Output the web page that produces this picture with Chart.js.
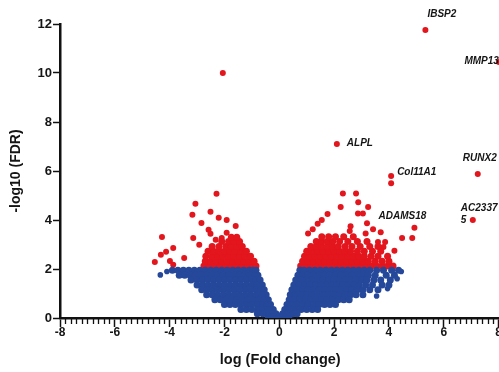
<!DOCTYPE html>
<html>
<head>
<meta charset="utf-8">
<script src="https://cdn.jsdelivr.net/npm/chart.js@4.4.1/dist/chart.umd.min.js"></script>
<style>
  html, body { margin: 0; padding: 0; background: #ffffff; overflow: hidden; }
  #wrap { width: 499px; height: 372px; overflow: hidden; position: relative; }
  #c { position: absolute; left: 0; top: 0; }
</style>
</head>
<body>
<div id="wrap"><canvas id="c" width="504" height="372"></canvas></div>
<script>
// ---- data (log fold change, -log10 FDR) ----
const xTickValues = [-8, -6, -4, -2, 0, 2, 4, 6, 8];
const yTickValues = [0, 2, 4, 6, 8, 10, 12];

// dense non-significant cloud, rows of [y, [x...]]
const blueCloudLeft = [
  [1.95, [-3.9,-3.7,-3.5,-3.3,-3.1,-2.9,-2.7,-2.5,-2.3,-2.1,-1.9,-1.7,-1.5,-1.3,-1.1,-0.95,-0.85]],
  [1.75, [-3.65,-3.45,-3.25,-3.05,-2.85,-2.65,-2.45,-2.25,-2.05,-1.85,-1.65,-1.45,-1.25,-1.05,-0.9,-0.78]],
  [1.55, [-3.22,-3.0,-2.8,-2.6,-2.4,-2.2,-2.0,-1.8,-1.6,-1.4,-1.2,-1.0,-0.85,-0.7]],
  [1.35, [-3.0,-2.8,-2.6,-2.4,-2.2,-2.0,-1.8,-1.6,-1.4,-1.2,-1.0,-0.8,-0.62]],
  [1.15, [-2.83,-2.63,-2.43,-2.23,-2.03,-1.83,-1.63,-1.43,-1.23,-1.03,-0.83,-0.68,-0.55]],
  [0.95, [-2.65,-2.45,-2.25,-2.05,-1.85,-1.65,-1.45,-1.25,-1.05,-0.85,-0.65,-0.48]],
  [0.75, [-2.35,-2.15,-1.95,-1.75,-1.55,-1.35,-1.15,-0.95,-0.75,-0.55,-0.4]],
  [0.55, [-2.0,-1.8,-1.6,-1.4,-1.2,-1.0,-0.8,-0.6,-0.45,-0.32]],
  [0.35, [-1.4,-1.2,-1.0,-0.8,-0.6,-0.4,-0.22]],
  [0.17, [-0.8,-0.6,-0.4,-0.25,-0.12]],
  [0.05, [-0.4,-0.2,0.0,0.2,0.35]]
];
const blueCloudRight = [
  [1.95, [0.75,0.9,1.1,1.3,1.5,1.7,1.9,2.1,2.3,2.5,2.7,2.9,3.1,3.3,3.55,3.8,4.1,4.35]],
  [1.75, [0.68,0.85,1.05,1.25,1.45,1.65,1.85,2.05,2.25,2.45,2.65,2.85,3.05,3.25,3.5,3.9,4.2]],
  [1.55, [0.6,0.8,1.0,1.2,1.4,1.6,1.8,2.0,2.2,2.4,2.6,2.8,3.0,3.2,3.45,3.7,4.05]],
  [1.35, [0.53,0.72,0.92,1.12,1.32,1.52,1.72,1.92,2.12,2.32,2.52,2.72,2.92,3.15,3.4,3.75,4.0]],
  [1.15, [0.46,0.65,0.85,1.05,1.25,1.45,1.65,1.85,2.05,2.25,2.45,2.65,2.85,3.05,3.3,3.6]],
  [0.95, [0.4,0.6,0.8,1.0,1.2,1.4,1.6,1.8,2.0,2.2,2.4,2.6,2.8,3.05]],
  [0.75, [0.36,0.55,0.75,0.95,1.15,1.35,1.55,1.75,1.95,2.15,2.35,2.55]],
  [0.55, [0.28,0.45,0.65,0.85,1.05,1.25,1.45,1.65,1.85,2.05]],
  [0.35, [0.2,0.4,0.6,0.8,1.0,1.2,1.4]],
  [0.17, [0.12,0.3,0.5,0.65]]
];
const blueScatter = [[-4.34,1.76],[-4.1,1.9],[4.45,1.9],[4.3,1.6],[3.95,1.2],[3.55,0.9]];

// dense significant cloud
const redCloudLeft = [
  [2.12, [-2.75,-2.55,-2.35,-2.15,-1.95,-1.75,-1.55,-1.35,-1.15,-0.95,-0.85]],
  [2.32, [-2.7,-2.5,-2.3,-2.1,-1.9,-1.7,-1.5,-1.3,-1.1,-0.92]],
  [2.52, [-2.68,-2.45,-2.25,-2.05,-1.85,-1.65,-1.45,-1.25,-1.05]],
  [2.72, [-2.6,-2.4,-2.2,-2.0,-1.8,-1.6,-1.4,-1.2]],
  [2.92, [-2.45,-2.2,-1.95,-1.75,-1.55,-1.35]],
  [3.12, [-2.1,-1.85,-1.65,-1.45]],
  [3.3,  [-1.75,-1.55]]
];
const redCloudRight = [
  [2.12, [0.78,0.95,1.15,1.35,1.55,1.75,1.95,2.15,2.35,2.55,2.75,2.95,3.15,3.35,3.55,3.75,3.95,4.15]],
  [2.32, [0.85,1.05,1.25,1.45,1.65,1.85,2.05,2.25,2.45,2.65,2.85,3.05,3.25,3.5,3.75,4.0]],
  [2.52, [0.92,1.1,1.3,1.5,1.7,1.9,2.1,2.3,2.5,2.7,2.9,3.1,3.35,3.6,3.95]],
  [2.72, [1.0,1.2,1.4,1.6,1.8,2.0,2.2,2.4,2.6,2.85,3.1,3.4,3.7]],
  [2.92, [1.15,1.35,1.55,1.75,1.95,2.15,2.4,2.65,2.95,3.3,3.6]],
  [3.12, [1.35,1.55,1.75,1.95,2.2,2.5,2.85,3.2]],
  [3.32, [1.55,1.8,2.05,2.35,2.7]]
];
const redScatter = [
  [-2.29,5.07],[-3.06,4.66],[-3.17,4.21],[-2.51,4.34],[-2.21,4.09],[-1.92,4.0],[-2.84,3.88],
  [-1.59,3.76],[-4.28,3.31],[-3.14,3.27],[-2.58,3.6],[-2.51,3.44],[-2.92,2.99],[-3.87,2.86],
  [-4.13,2.7],[-4.32,2.58],[-4.54,2.29],[-3.99,2.33],[-3.87,2.17],[-3.47,2.45],[-1.92,3.48],
  [-2.32,3.19],[-2.1,3.27],[-2.06,10.0],
  [1.05,3.45],[1.22,3.62],[1.4,3.85],[1.55,4.0],[1.76,4.25],[2.24,4.53],[2.32,5.08],[2.8,5.08],
  [2.88,4.72],[3.24,4.53],[2.87,4.27],[3.05,4.27],[2.57,3.55],[2.6,3.75],[3.2,3.87],[3.42,3.62],
  [3.15,3.45],[3.7,3.5],[3.6,3.1],[3.86,3.1],[3.8,2.9],[4.2,2.75],[4.48,3.27],[4.85,3.27],[4.08,5.5]
];

// labelled genes
const geneNames = ['IBSP2', 'MMP13', 'ALPL', 'Col11A1', 'RUNX2', 'ADAMS18', 'AC2337\n5'];
const geneX = [5.33, 8.01, 2.1, 4.08, 7.24, 4.93, 7.06];
const geneY = [11.76, 10.45, 7.1, 5.8, 5.88, 3.68, 4.0];

// ---- build point tables ----
function rowsToPoints(rows) {
  const out = [];
  rows.forEach(([y, xs]) => xs.forEach(x => out.push({ x: x, y: y })));
  return out;
}
const pairs = arr => arr.map(([x, y]) => ({ x: x, y: y }));

const RED = '#e3151d';
const BLUE = '#25489b';
const FONT = "'Liberation Sans', Arial, Helvetica, sans-serif";

// label placement (pixel offsets from the point)
const labelStyle = {
  'IBSP2':     { align: 'left',   dx: 2,   dy: -16 },
  'MMP13':     { align: 'right',  dx: 0,   dy: -1 },
  'ALPL':      { align: 'left',   dx: 10,  dy: -1 },
  'Col11A1':   { align: 'left',   dx: 6,   dy: -4 },
  'RUNX2':     { align: 'center', dx: 2,   dy: -16 },
  'ADAMS18':   { align: 'center', dx: -12, dy: -12 },
  'AC2337\n5': { align: 'left',   dx: -12, dy: -12 }
};

const geneLabels = {
  id: 'geneLabels',
  afterDatasetsDraw(chart) {
    const ctx = chart.ctx, xs = chart.scales.x, ys = chart.scales.y;
    ctx.save();
    ctx.fillStyle = '#151515';
    ctx.font = "italic bold 10px " + FONT;
    ctx.textBaseline = 'middle';
    geneNames.forEach((name, i) => {
      const st = labelStyle[name];
      const px = xs.getPixelForValue(geneX[i]) + st.dx;
      const py = ys.getPixelForValue(geneY[i]) + st.dy;
      ctx.textAlign = st.align;
      name.split('\n').forEach((line, k) => ctx.fillText(line, px, py + k * 12));
    });
    ctx.restore();
  }
};

const minorTicks = {
  id: 'minorTicks',
  afterDraw(chart) {
    const ctx = chart.ctx, xs = chart.scales.x;
    const y0 = chart.chartArea.bottom;
    ctx.save();
    ctx.strokeStyle = '#111';
    ctx.lineWidth = 1.3;
    for (let k = -40; k <= 40; k++) {
      if (k % 10 === 0) continue;
      const px = Math.round(xs.getPixelForValue(k * 0.2)) + 0.5;
      if (px > chart.width) continue;
      ctx.beginPath();
      ctx.moveTo(px, y0);
      ctx.lineTo(px, y0 + 6);
      ctx.stroke();
    }
    ctx.restore();
  }
};

const pointDs = (data, color, r) => ({
  data: data, backgroundColor: color, borderWidth: 0,
  pointRadius: r, pointHoverRadius: r
});

new Chart(document.getElementById('c'), {
  type: 'scatter',
  data: {
    datasets: [
      pointDs(rowsToPoints(blueCloudLeft).concat(rowsToPoints(blueCloudRight)), BLUE, 3.5),
      pointDs(pairs(blueScatter), BLUE, 2.8),
      pointDs(rowsToPoints(redCloudLeft).concat(rowsToPoints(redCloudRight)), RED, 3.5),
      pointDs(pairs(redScatter), RED, 3),
      pointDs(geneX.map((x, i) => ({ x: x, y: geneY[i] })), RED, 3)
    ]
  },
  options: {
    responsive: false,
    animation: false,
    events: [],
    layout: { padding: { top: 24, right: 0, bottom: 0, left: 0 } },
    plugins: { legend: { display: false }, tooltip: { enabled: false } },
    scales: {
      x: {
        type: 'linear', min: -8, max: 8.07,
        afterBuildTicks: s => { s.ticks = xTickValues.map(v => ({ value: v })); },
        afterFit: s => { s.height = 54; s.paddingLeft = 0; s.paddingRight = 0; },
        ticks: {
          includeBounds: false, padding: -2, maxRotation: 0, autoSkip: false,
          color: '#151515', font: { family: FONT, size: 12, weight: 'bold' },
          callback: v => String(v)
        },
        grid: { drawOnChartArea: false, drawTicks: true, tickLength: 9, tickWidth: 1.5, tickColor: '#111' },
        border: { display: true, color: '#111', width: 2.5 },
        title: {
          display: true, text: 'log (Fold change)', color: '#151515',
          font: { family: FONT, size: 14.5, weight: 'bold' },
          padding: { top: 0, bottom: 3 }
        }
      },
      y: {
        type: 'linear', min: 0, max: 12,
        afterBuildTicks: s => { s.ticks = yTickValues.map(v => ({ value: v })); },
        afterFit: s => { s.width = 60; s.paddingTop = 0; s.paddingBottom = 0; },
        ticks: {
          padding: 1, color: '#151515',
          font: { family: FONT, size: 13, weight: 'bold' },
          callback: v => String(v)
        },
        grid: { drawOnChartArea: false, drawTicks: true, tickLength: 7, tickWidth: 1.5, tickColor: '#111' },
        border: { display: true, color: '#111', width: 2.5 },
        title: {
          display: true, text: '-log10 (FDR)', color: '#151515',
          font: { family: FONT, size: 14, weight: 'bold' },
          padding: { top: 8, bottom: 0 }
        }
      }
    }
  },
  plugins: [geneLabels, minorTicks]
});
</script>
</body>
</html>
